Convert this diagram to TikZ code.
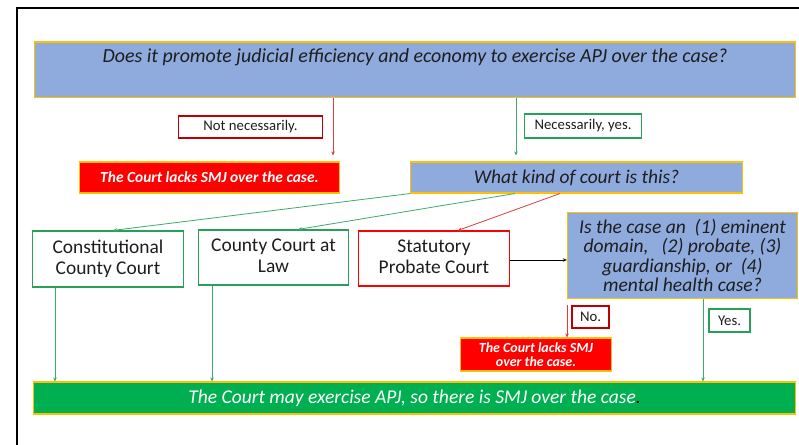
\documentclass[tikz,border=0pt]{standalone}
\usepackage{fontspec}
\setmainfont{Carlito}
\usetikzlibrary{arrows.meta}
\definecolor{qblue}{RGB}{143,170,220}
\definecolor{gold}{RGB}{255,192,0}
\definecolor{fred}{RGB}{255,0,0}
\definecolor{fgreen}{RGB}{0,176,80}
\definecolor{bgreen}{RGB}{40,160,90}
\definecolor{bred}{RGB}{192,0,0}
\definecolor{lgreen}{RGB}{60,170,110}
\definecolor{lred}{RGB}{225,60,60}
\definecolor{txt}{RGB}{30,30,30}
\tikzset{
  box/.style={draw, inner sep=0pt, align=center, text=txt},
  bluebox/.style={box, fill=qblue, draw=gold, line width=1.2bp},
  redbox/.style={box, fill=fred, draw=gold, line width=1.2bp, text=white},
  greenbox/.style={box, fill=fgreen, draw=gold, line width=1.2bp, text=white},
  gcourt/.style={box, fill=white, draw=bgreen, line width=1.4bp},
  rcourt/.style={box, fill=white, draw=fred, line width=1.4bp},
  glabel/.style={box, fill=white, draw=bgreen, line width=1.2bp, font=\fontsize{14.8}{16}\selectfont},
  rlabel/.style={box, fill=white, draw=bred, line width=1.2bp, font=\fontsize{14.8}{16}\selectfont},
  tip/.style={-{Stealth[length=4bp,width=3.5bp]}},
  garrow/.style={tip, draw=lgreen, line width=0.8bp},
  rarrow/.style={tip, draw=lred, line width=0.8bp},
  karrow/.style={tip, draw=black, line width=0.8bp},
}
\begin{document}
\begin{tikzpicture}[x=1bp,y=-1bp]
\useasboundingbox (0,0) rectangle (799,445);
\draw[line width=1.8bp] (17,445) -- (17,8) -- (799,8);

\node[bluebox, minimum width=764, minimum height=56] (q1) at (415,70) {};
\node[text=txt, font=\fontsize{20}{24}\selectfont\itshape] (q1t) at (415,57) {Does it promote judicial efficiency and economy to exercise APJ over the case?};

\node[rlabel, minimum width=145, minimum height=22] (nn) at (250.5,127) {Not necessarily.};
\node[glabel, minimum width=118, minimum height=24] (ny) at (583,126) {Necessarily, yes.};

\node[redbox, minimum width=261, minimum height=31, font=\fontsize{15.5}{17}\selectfont\bfseries\itshape] (lacks1) at (209.5,177.5) {The Court lacks SMJ over the case.};
\node[bluebox, minimum width=333, minimum height=31, font=\fontsize{19.5}{22}\selectfont\itshape] (kind) at (576.5,177.5) {What kind of court is this?};

\node[gcourt, minimum width=152, minimum height=56, font=\fontsize{19.5}{21}\selectfont] (ccc) at (108,259) {Constitutional\\County Court\vphantom{g}};
\node[gcourt, minimum width=151, minimum height=55, font=\fontsize{19.5}{21}\selectfont] (ccl) at (273.5,257.5) {County Court at\\Law\vphantom{g}};
\node[rcourt, minimum width=152, minimum height=55, font=\fontsize{19.5}{21}\selectfont] (spc) at (434,258.5) {Statutory\\Probate Court\vphantom{g}};
\node[bluebox, minimum width=231, minimum height=87, font=\fontsize{19.6}{19.5}\selectfont\itshape] (q2) at (682.5,255.5) {Is the case an\ \ (1) eminent\\domain,\ \ \ (2) probate,\ (3)\\guardianship, or\ \ (4)\\mental health case?};

\node[rlabel, minimum width=37, minimum height=22] (no) at (590.5,317) {No.};
\node[redbox, minimum width=152, minimum height=33, font=\fontsize{14}{13.5}\selectfont\bfseries\itshape] (lacks2) at (536,354.5) {The Court lacks SMJ\\over the case.};
\node[glabel, minimum width=41, minimum height=23] (yes) at (729.5,320.5) {Yes.};

\node[greenbox, minimum width=765, minimum height=32, font=\fontsize{19.6}{22}\selectfont\itshape] (final) at (414.5,398) {The Court may exercise APJ, so there is SMJ over the case\textcolor{black}{.}};

\coordinate (x333) at (333,0);
\coordinate (x516) at (516,0);
\coordinate (x410) at (410,0);
\coordinate (x515) at (515,0);
\coordinate (x560) at (560,0);
\coordinate (x113) at (113,0);
\coordinate (x298) at (298,0);
\coordinate (x458) at (458,0);
\coordinate (x567) at (567,0);
\coordinate (x703) at (703,0);
\coordinate (x55) at (55,0);
\coordinate (x212) at (212,0);
\coordinate (y260) at (0,260);

\draw[rarrow, shorten >=6bp] (q1.south -| x333) -- (lacks1.north -| x333);
\draw[garrow, shorten >=6bp] (q1.south -| x516) -- (kind.north -| x516);
\draw[garrow] (kind.south -| x410) -- (ccc.north -| x113);
\draw[garrow] (kind.south -| x515) -- (ccl.north -| x298);
\draw[rarrow] (kind.south -| x560) -- (spc.north -| x458);
\draw[karrow] (spc.east |- y260) -- (q2.west |- y260);
\draw[rarrow] ([yshift=-6bp]q2.south -| x567) -- (lacks2.north -| x567);
\draw[garrow] (q2.south -| x703) -- (final.north -| x703);
\draw[garrow] (ccc.south -| x55) -- (final.north -| x55);
\draw[garrow] (ccl.south -| x212) -- (final.north -| x212);
\end{tikzpicture}
\end{document}
